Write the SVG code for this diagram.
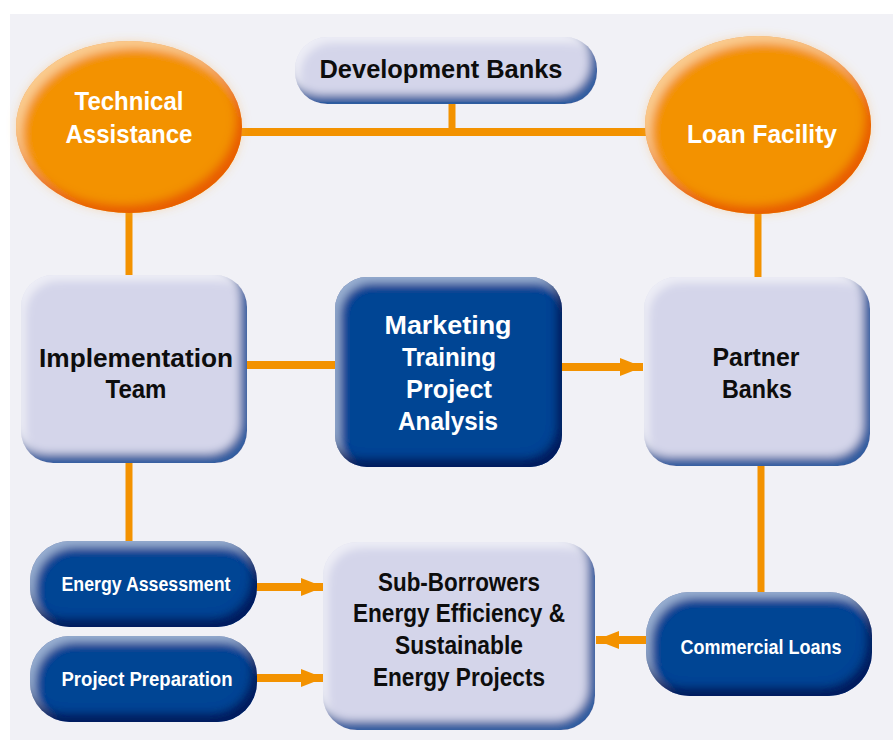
<svg xmlns="http://www.w3.org/2000/svg" width="893" height="740" viewBox="0 0 893 740">
<defs>
<style>
.ln{stroke:#f39200;stroke-width:8;fill:none}
.lv{stroke:#f39200;stroke-width:7;fill:none}
.lt{fill:#d4d5ea;filter:url(#bevL)}
.dk{fill:#004494;filter:url(#bevD)}
.or{fill:#f39200;filter:url(#bevO)}
.tb{font-family:"Liberation Sans",Arial,sans-serif;font-weight:bold;fill:#0d0d0d;text-anchor:middle}
.tw{font-family:"Liberation Sans",Arial,sans-serif;font-weight:bold;fill:#ffffff;text-anchor:middle}
.big{font-size:26px}
.sm{font-size:20px}
</style>
<marker id="ah" markerUnits="userSpaceOnUse" markerWidth="23" markerHeight="18" refX="23" refY="9" orient="auto">
<path d="M0,0 L23,9 L0,18 z" fill="#f39200"/>
</marker>
<filter id="bevL" x="-10%" y="-10%" width="120%" height="120%">
<feGaussianBlur in="SourceAlpha" stdDeviation="4" result="b"/>
<feOffset in="b" dx="-7" dy="-9" result="o1"/>
<feComposite in="SourceAlpha" in2="o1" operator="out" result="m1"/>
<feFlood flood-color="#2f5c9f"/>
<feComposite in2="m1" operator="in" result="s1"/>
<feOffset in="b" dx="5" dy="6" result="o2"/>
<feComposite in="SourceAlpha" in2="o2" operator="out" result="m2"/>
<feFlood flood-color="#ffffff" flood-opacity="0.55"/>
<feComposite in2="m2" operator="in" result="s2"/>
<feMerge><feMergeNode in="SourceGraphic"/><feMergeNode in="s2"/><feMergeNode in="s1"/></feMerge>
</filter>
<filter id="bevD" x="-10%" y="-10%" width="120%" height="120%">
<feGaussianBlur in="SourceAlpha" stdDeviation="4" result="b"/>
<feOffset in="b" dx="-6" dy="-9" result="o1"/>
<feComposite in="SourceAlpha" in2="o1" operator="out" result="m1"/>
<feFlood flood-color="#001c5e"/>
<feComposite in2="m1" operator="in" result="s1"/>
<feOffset in="b" dx="5" dy="6" result="o2"/>
<feComposite in="SourceAlpha" in2="o2" operator="out" result="m2"/>
<feFlood flood-color="#a8bfdd" flood-opacity="0.8"/>
<feComposite in2="m2" operator="in" result="s2"/>
<feMerge><feMergeNode in="SourceGraphic"/><feMergeNode in="s2"/><feMergeNode in="s1"/></feMerge>
</filter>
<filter id="bevO" x="-15%" y="-15%" width="130%" height="130%">
<feGaussianBlur in="SourceAlpha" stdDeviation="4" result="b"/>
<feGaussianBlur in="SourceAlpha" stdDeviation="5" result="g"/>
<feFlood flood-color="#f7b04a" flood-opacity="0.35"/>
<feComposite in2="g" operator="in" result="glow"/>
<feOffset in="b" dx="-6" dy="-8" result="o1"/>
<feComposite in="SourceAlpha" in2="o1" operator="out" result="m1"/>
<feFlood flood-color="#e85e00"/>
<feComposite in2="m1" operator="in" result="s1"/>
<feOffset in="b" dx="6" dy="7" result="o2"/>
<feComposite in="SourceAlpha" in2="o2" operator="out" result="m2"/>
<feFlood flood-color="#fbd49a" flood-opacity="0.85"/>
<feComposite in2="m2" operator="in" result="s2"/>
<feMerge><feMergeNode in="glow"/><feMergeNode in="SourceGraphic"/><feMergeNode in="s2"/><feMergeNode in="s1"/></feMerge>
</filter>
</defs>
<rect x="0" y="0" width="893" height="740" fill="#ffffff"/>
<rect x="10" y="14" width="883" height="726" fill="#f1f1f6"/>
<g id="connectors">
<line class="ln" x1="238" y1="132" x2="650" y2="132"/>
<line class="lv" x1="452" y1="100" x2="452" y2="132"/>
<line class="lv" x1="129" y1="208" x2="129" y2="280"/>
<line class="lv" x1="758" y1="210" x2="758" y2="280"/>
<line class="ln" x1="244" y1="365" x2="338" y2="365"/>
<line class="ln" x1="558" y1="367" x2="643" y2="367" marker-end="url(#ah)"/>
<line class="lv" x1="129" y1="460" x2="129" y2="545"/>
<line class="lv" x1="761" y1="462" x2="761" y2="596"/>
<line class="ln" x1="254" y1="587" x2="324" y2="587" marker-end="url(#ah)"/>
<line class="ln" x1="254" y1="678" x2="324" y2="678" marker-end="url(#ah)"/>
<line class="ln" x1="650" y1="640" x2="596" y2="640" marker-end="url(#ah)"/>
</g>
<g id="technical-assistance">
<ellipse class="or" cx="129" cy="127" rx="113" ry="86"/>
<text class="tw big" x="129" y="110" textLength="109" lengthAdjust="spacingAndGlyphs">Technical</text>
<text class="tw big" x="129" y="143" textLength="127" lengthAdjust="spacingAndGlyphs">Assistance</text>
</g>
<g id="development-banks">
<rect class="lt" x="295" y="37" width="302" height="67" rx="32"/>
<text class="tb big" x="441" y="78" textLength="243" lengthAdjust="spacingAndGlyphs">Development Banks</text>
</g>
<g id="loan-facility">
<ellipse class="or" cx="758" cy="125" rx="113" ry="89"/>
<text class="tw big" x="762" y="143" textLength="150" lengthAdjust="spacingAndGlyphs">Loan Facility</text>
</g>
<g id="implementation-team">
<rect class="lt" x="21" y="275" width="226" height="188" rx="32"/>
<text class="tb big" x="136" y="367" textLength="194" lengthAdjust="spacingAndGlyphs">Implementation</text>
<text class="tb big" x="136" y="398" textLength="61" lengthAdjust="spacingAndGlyphs">Team</text>
</g>
<g id="marketing">
<rect class="dk" x="335" y="277" width="227" height="190" rx="32"/>
<text class="tw big" x="448" y="334" textLength="127" lengthAdjust="spacingAndGlyphs">Marketing</text>
<text class="tw big" x="449" y="366" textLength="94" lengthAdjust="spacingAndGlyphs">Training</text>
<text class="tw big" x="449" y="398" textLength="86" lengthAdjust="spacingAndGlyphs">Project</text>
<text class="tw big" x="448" y="430" textLength="100" lengthAdjust="spacingAndGlyphs">Analysis</text>
</g>
<g id="partner-banks">
<rect class="lt" x="644" y="277" width="226" height="189" rx="32"/>
<text class="tb big" x="756" y="366" textLength="87" lengthAdjust="spacingAndGlyphs">Partner</text>
<text class="tb big" x="757" y="398" textLength="70" lengthAdjust="spacingAndGlyphs">Banks</text>
</g>
<g id="energy-assessment">
<rect class="dk" x="30" y="541" width="227" height="86" rx="40"/>
<text class="tw sm" x="146" y="591" textLength="169" lengthAdjust="spacingAndGlyphs">Energy Assessment</text>
</g>
<g id="project-preparation">
<rect class="dk" x="30" y="636" width="227" height="86" rx="40"/>
<text class="tw sm" x="147" y="686" textLength="171" lengthAdjust="spacingAndGlyphs">Project Preparation</text>
</g>
<g id="sub-borrowers">
<rect class="lt" x="323" y="542" width="272" height="188" rx="34"/>
<text class="tb big" x="459" y="591" textLength="162" lengthAdjust="spacingAndGlyphs">Sub-Borrowers</text>
<text class="tb big" x="459" y="622" textLength="212" lengthAdjust="spacingAndGlyphs">Energy Efficiency &amp;</text>
<text class="tb big" x="459" y="654" textLength="128" lengthAdjust="spacingAndGlyphs">Sustainable</text>
<text class="tb big" x="459" y="686" textLength="172" lengthAdjust="spacingAndGlyphs">Energy Projects</text>
</g>
<g id="commercial-loans">
<rect class="dk" x="646" y="592" width="226" height="104" rx="44"/>
<text class="tw sm" x="761" y="654" textLength="161" lengthAdjust="spacingAndGlyphs">Commercial Loans</text>
</g>
</svg>
